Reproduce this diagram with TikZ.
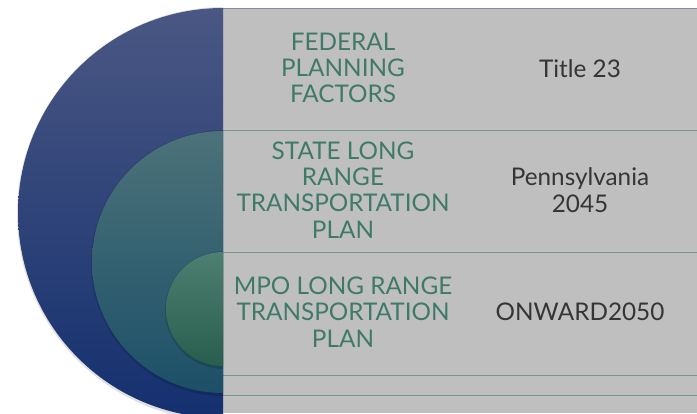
\documentclass[tikz,border=0pt]{standalone}
\usepackage{fontspec}
\setmainfont{Lato}
\usepackage{tikz}

\definecolor{panelgray}{HTML}{BFBFBF}
\definecolor{rowgreen}{HTML}{6F9A88}
\definecolor{outertop}{HTML}{4A5783}
\definecolor{outerbottom}{HTML}{14306F}
\definecolor{middletop}{HTML}{4C7279}
\definecolor{middlebottom}{HTML}{1C5068}
\definecolor{innertop}{HTML}{4E7F71}
\definecolor{innerbottom}{HTML}{285E4E}
\definecolor{labelgreen}{HTML}{3F7A69}
\definecolor{valuegray}{HTML}{363434}

\tikzset{
	lefttext/.style={align=center, text=labelgreen, inner sep=0pt, font=\fontsize{24.3}{26.3}\selectfont},
	righttext/.style={align=center, text=valuegray, inner sep=0pt, font=\fontsize{24.3}{26.3}\selectfont},
	rowline/.style={draw=rowgreen, line width=0.9pt}
}

\begin{document}
\begin{tikzpicture}[x=1pt,y=-1pt]
	\useasboundingbox (0,0) rectangle (697,413);
	% Panel %
	\fill [panelgray] (223,8) rectangle (697,413);
	\draw [draw=outertop!50!panelgray, line width=0.9pt] (223,8) -- (697,8);
	\foreach \y in {130, 252, 375, 395}
		{\draw [rowline] (223,\y) -- (697,\y);}
	% Circles %
	\begin{scope}
		\clip (0,0) rectangle (223,413);
		\fill [black, opacity=0.12] (224,214) circle (207pt);
		\shade [top color=outertop, bottom color=outerbottom] (223,213) circle (205pt);
		\fill [black, opacity=0.15] (224,263) circle (133pt);
		\shade [top color=middletop, bottom color=middlebottom] (223,262) circle (131pt);
		\fill [black, opacity=0.15] (224,310) circle (59pt);
		\shade [top color=innertop, bottom color=innerbottom] (223,309) circle (57pt);
	\end{scope}
	% Labels %
	\node (federal) at (343,68) [lefttext] {FEDERAL\\PLANNING\\FACTORS};
	\node (state) at (343,190) [lefttext] {STATE LONG\\RANGE\\TRANSPORTATION\\PLAN};
	\node (mpo) at (343,312) [lefttext] {MPO LONG RANGE\\TRANSPORTATION\\PLAN};
	% Values %
	\node (title) at (580,69) [righttext] {Title 23};
	\node (penn) at (580,190) [righttext] {Pennsylvania\\2045};
	\node (onward) at (580,312) [righttext] {ONWARD2050};
\end{tikzpicture}
\end{document}
